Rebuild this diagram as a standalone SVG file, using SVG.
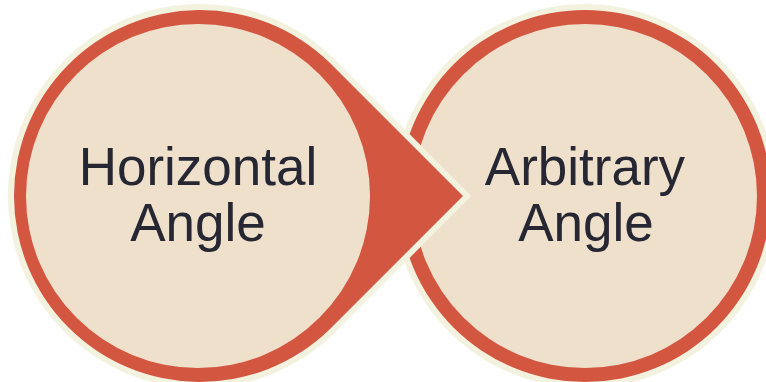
<svg xmlns="http://www.w3.org/2000/svg" width="766" height="382" viewBox="0 0 766 382">
<style>
.edge{fill:#D35640;stroke:#F3F2DF;stroke-width:12;paint-order:stroke}
.inner{fill:#EFE0CB}
.lbl{font-family:"Liberation Sans",Arial,sans-serif;font-size:53px;fill:#262732;text-anchor:middle}
</style>
<rect width="766" height="382" fill="#FFFFFF"/>
<g id="connectors"></g>
<g id="node-arbitrary">
<circle class="edge" cx="585" cy="196" r="186"/>
<circle class="inner" cx="585" cy="196" r="172"/>
<text class="lbl" x="585" y="185">Arbitrary</text>
<text class="lbl" x="586" y="241">Angle</text>
</g>
<g id="node-horizontal">
<path class="edge" d="M463 196 L329.5 329.5 A186 186 0 1 1 329.5 62.5 Z"/>
<circle class="inner" cx="198" cy="196" r="172"/>
<text class="lbl" x="198" y="185">Horizontal</text>
<text class="lbl" x="198" y="241">Angle</text>
</g>
</svg>
